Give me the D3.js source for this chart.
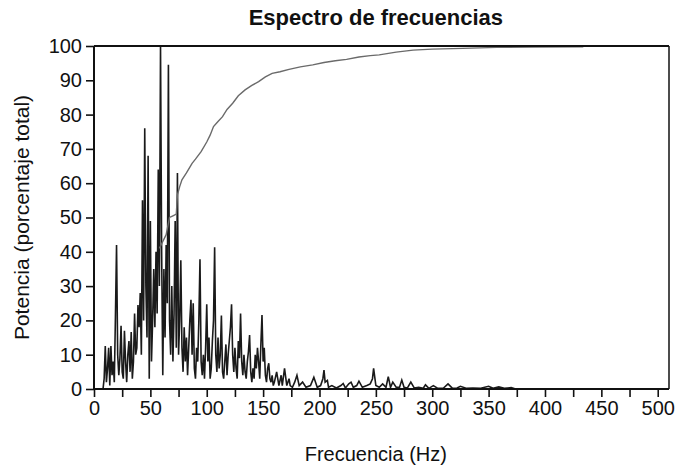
<!DOCTYPE html>
<html><head><meta charset="utf-8">
<script src="https://cdn.jsdelivr.net/npm/d3@7"></script>
<style>body{margin:0;background:#fff}svg{display:block}text{font-family:"Liberation Sans",Arial,sans-serif}</style>
</head><body><div id="chart"></div>
<script>
const title = "Espectro de frecuencias";
const xLabel = "Frecuencia (Hz)";
const yLabel = "Potencia (porcentaje total)";
const xTicksMajor = [0,50,100,150,200,250,300,350,400,450,500];
const xTicksAll = d3.range(0,501,25);
const yTicks = [0,10,20,30,40,50,60,70,80,90,100];

// spectrum 0-160 Hz (Hz, % power)
const specFreq = [0,8,9,10,11,12,13,14,15,16,17,18,19,20,21,22,23,24,25,26,27,28,29,30,31,32,33,34,35,36,37,38,39,40,
41,42,43,44,45,46,47,48,49,50,51,52,53,54,55,56,57,58,59,60,61,62,63,64,65,66,67,68,69,70,71,72,73,74,75,76,77,78,79,80,
81,82,83,84,85,86,87,88,89,90,91,92,93,94,95,96,97,98,99,100,101,102,103,104,105,106,107,108,109,110,111,112,113,114,115,116,117,118,119,120,
121,122,123,124,125,126,127,128,129,130,131,132,133,134,135,136,137,138,139,140,141,142,143,144,145,146,147,148,149,150,151,152,153,154,155,156,157,158,159,160];
const specPower = [0,0,3,12.5,2,6,12,1,12.5,4,8,2,21,42,10,4,9,18.4,5,3,17,8,2,10,14,5,16.6,3,8,22,10,12,24.5,18,
28,10,55,20,76,30,15,68,3,49,8,20,35,18,40,22,64,30,100,40,4,35,15,42,25,94.5,20,10,30,8,22,49,12,63,10,20,37.5,12,5,18,
8,15,4,12,20,26,10,25,6,3,12,8,20,37.8,8,4,10,3,12,24.7,8,15,3,6,14,20,41.3,10,5,15,6,10,21.4,5,3,8,13,4,10,14,
18,24.7,10,5,12,6,3,14,9,22,8,4,10,5,3,8,11,15.7,5,2,6,3,10,6,12,8,3,13,21.6,8,12,4,2,6,7.5,3,2,4,1,2];
// spectrum tail 160-376 Hz as [Hz, % power]
const specTail = [[162,5],[164,1],[166,4],[167,1],[169,6],[171,1],[173,3],[174,1],[176,0.5],[178,2],[180,4],[182,1],[185,2],[188,0.5],
[192,1],[195,3.4],[198,0.5],[201,1],[203,3],[204,5.5],[205,2],[207,2.5],[208,0.5],[211,1],[215,0.3],[219,1],[221,1.6],[223,0.3],
[226,1.5],[228,2],[230,0.5],[233,1],[235,2.3],[238,0.5],[242,1],[245,1.5],[247,3],[248,6],[250,1],[253,0.5],[256,1.5],[259,0.5],
[261,3.6],[263,0.5],[265,2],[268,0.5],[271,0.5],[273,2.6],[275,0.5],[278,0.3],[281,2],[284,0.3],[288,0.5],[292,0.2],[294,1.2],
[297,0.2],[301,1],[305,0.2],[310,0.3],[314,1.5],[318,0.2],[322,0.3],[325,0.8],[330,0.2],[336,0.3],[343,0.2],[350,0.8],[354,0.2],
[359,0.6],[364,0.2],[370,0.4],[374,0],[376,0]];

// cumulative power (Hz, %)
const cumFreq = [58,61,64,67,70,73,74,76,78,82,87,90,95,100,103,106,110,114,118,123,128,134,140,146,152,158,165,173,183,194,204,214,224,235,245,253,268,283,300,327,357,390,434];
const cumPower = [41,43,45,50,50.5,51,56.6,59,61,63,65.8,67,69.2,72,74,76.5,78,79.4,81.5,83.3,85.5,87.2,88.5,89.6,91,92,92.5,93.2,93.9,94.5,95.2,95.7,96.1,96.8,97.2,97.4,98.2,98.8,99.1,99.3,99.6,99.7,99.8];

const W = 678, H = 468;
const m = {left:94, right:9, top:46, bottom:79};
const svg = d3.select("#chart").append("svg").attr("width",W).attr("height",H);
const x = d3.scaleLinear().domain([0,510]).range([m.left, W-m.right]);
const y = d3.scaleLinear().domain([0,100]).range([H-m.bottom, m.top]);

const spec = specFreq.map((f,i)=>[f,specPower[i]]).concat(specTail);
const cum = cumFreq.map((f,i)=>[f,cumPower[i]]);
const line = d3.line().x(d=>x(d[0])).y(d=>y(d[1]));

svg.append("path").datum(spec).attr("d",line).attr("fill","none").attr("stroke","#1a1a1a").attr("stroke-width",1.6);
svg.append("path").datum(cum).attr("d",line).attr("fill","none").attr("stroke","#6a6a6a").attr("stroke-width",1.4);

// frame
svg.append("line").attr("x1",x(0)).attr("x2",x(510)).attr("y1",y(100)).attr("y2",y(100)).attr("stroke","#111").attr("stroke-width",2.2);
svg.append("line").attr("x1",x(510)).attr("x2",x(510)).attr("y1",y(100)).attr("y2",y(0)).attr("stroke","#111").attr("stroke-width",1.5);

const xAxis = svg.append("g").attr("transform",`translate(0,${y(0)})`)
  .call(d3.axisBottom(x).tickValues(xTicksAll).tickSize(8).tickPadding(4)
    .tickFormat(d=> xTicksMajor.includes(d) ? d : ""));
xAxis.select(".domain").attr("d",`M${x(0)},0H${x(510)}`).attr("stroke","#111").attr("stroke-width",2);
xAxis.selectAll("line").attr("stroke","#111").attr("stroke-width",1.6);
xAxis.selectAll("text").attr("font-size",20).attr("fill","#111");

const yAxis = svg.append("g").attr("transform",`translate(${x(0)},0)`)
  .call(d3.axisLeft(y).tickValues(yTicks).tickSize(8).tickPadding(4));
yAxis.select(".domain").attr("d",`M0,${y(0)}V${y(100)}`).attr("stroke","#111").attr("stroke-width",2);
yAxis.selectAll("line").attr("stroke","#111").attr("stroke-width",1.6);
yAxis.selectAll("text").attr("font-size",20).attr("fill","#111");

svg.append("text").attr("x",(x(0)+x(500))/2).attr("y",25).attr("text-anchor","middle")
  .attr("font-weight","bold").attr("font-size",22).attr("fill","#111").text(title);
svg.append("text").attr("x",(x(0)+x(500))/2).attr("y",461).attr("text-anchor","middle")
  .attr("font-size",20).attr("fill","#111").text(xLabel);
svg.append("text").attr("transform",`translate(29,${(y(0)+y(100))/2}) rotate(-90)`).attr("text-anchor","middle")
  .attr("font-size",21).attr("fill","#111").text(yLabel);
</script></body></html>
